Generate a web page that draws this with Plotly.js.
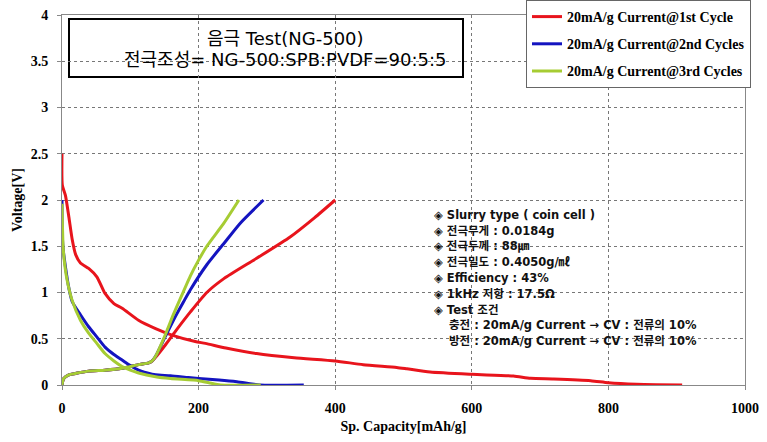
<!DOCTYPE html>
<html><head><meta charset="utf-8">
<script src="https://cdn.plot.ly/plotly-3.0.1.min.js"></script>
<style>html,body{margin:0;padding:0;background:#fff}</style>
</head><body><div id="chart" style="width:767px;height:442px"></div>
<script>
// ---- data ----
const seriesNames = ["20mA/g Current@1st Cycle", "20mA/g Current@2nd Cycles", "20mA/g Current@3rd Cycles"];
const seriesColors = ["#e8141c", "#1414c0", "#a6cc33"];

// 1st cycle
const c1DisCap = [0, 0.5, 5, 10, 15, 20, 27, 39, 51, 63, 76, 88, 112, 137, 161, 195, 210, 240, 285, 340, 400, 441, 490, 505, 539, 600, 661, 686, 720, 774, 800, 841, 870, 908];
const c1DisV   = [2.5, 2.16, 2.05, 1.82, 1.57, 1.41, 1.32, 1.26, 1.17, 0.99, 0.88, 0.83, 0.70, 0.61, 0.54, 0.47, 0.45, 0.40, 0.34, 0.295, 0.26, 0.22, 0.19, 0.175, 0.14, 0.115, 0.097, 0.072, 0.065, 0.047, 0.025, 0.008, 0.003, 0.0];
const c1ChgCap = [0, 1, 2.4, 10, 20, 39, 63, 88, 112, 127, 132, 137, 151, 166, 188, 212, 237, 285, 334, 370, 400];
const c1ChgV   = [0, 0.04, 0.07, 0.11, 0.125, 0.15, 0.16, 0.18, 0.22, 0.24, 0.26, 0.30, 0.43, 0.58, 0.79, 1.0, 1.15, 1.37, 1.60, 1.81, 2.0];

// 2nd cycle
const c2DisCap = [0, 0.5, 2, 5, 10, 15, 27, 39, 51, 63, 76, 88, 100, 112, 125, 137, 159, 185, 200, 230, 256, 275, 290, 354];
const c2DisV   = [2.0, 1.6, 1.45, 1.28, 1.05, 0.90, 0.76, 0.63, 0.52, 0.41, 0.33, 0.27, 0.21, 0.16, 0.13, 0.11, 0.10, 0.08, 0.07, 0.055, 0.036, 0.015, 0.0, 0.0];
const c2ChgCap = [0, 1, 2.4, 10, 20, 39, 63, 88, 112, 127, 132, 137, 151, 166, 178, 188, 212, 237, 261, 295];
const c2ChgV   = [0, 0.04, 0.07, 0.11, 0.125, 0.15, 0.16, 0.18, 0.22, 0.24, 0.26, 0.31, 0.52, 0.74, 0.90, 1.03, 1.30, 1.53, 1.75, 2.0];

// 3rd cycle
const c3DisCap = [0, 1.6, 4, 7.3, 14.6, 27, 39, 51, 63, 76, 88, 100, 112, 137, 159, 200, 215, 232, 291];
const c3DisV   = [1.96, 1.5, 1.3, 1.14, 0.92, 0.70, 0.56, 0.45, 0.34, 0.26, 0.20, 0.16, 0.13, 0.09, 0.07, 0.047, 0.025, 0.0, 0.0];
const c3ChgCap = [0, 1, 2.4, 10, 20, 39, 63, 88, 112, 127, 132, 137, 150, 163, 176, 188, 200, 212, 237, 259];
const c3ChgV   = [0, 0.04, 0.07, 0.11, 0.125, 0.15, 0.16, 0.18, 0.22, 0.24, 0.26, 0.31, 0.52, 0.76, 0.98, 1.18, 1.35, 1.50, 1.75, 2.0];

const xTickVals = [0, 200, 400, 600, 800, 1000];
const yTickVals = [0, 0.5, 1, 1.5, 2, 2.5, 3, 3.5, 4];

const titleLine1 = "음극 Test(NG-500)";
const titleLine2 = "전극조성= NG-500:SPB:PVDF=90:5:5";
const infoLines = [
  "◈ Slurry type ( coin cell )",
  "◈ 전극무게 : 0.0184g",
  "◈ 전극두께 : 88㎛",
  "◈ 전극밀도 : 0.4050g/㎖",
  "◈ Efficiency : 43%",
  "◈ 1kHz 저항 : 17.5Ω",
  "◈ Test 조건",
  "충전 : 20mA/g Current → CV : 전류의 10%",
  "방전 : 20mA/g Current → CV : 전류의 10%"
];
const infoIndent = [0, 0, 0, 0, 0, 0, 0, 1, 1];

// ---- build ----
const cycles = [
  [c1DisCap, c1DisV, c1ChgCap, c1ChgV],
  [c2DisCap, c2DisV, c2ChgCap, c2ChgV],
  [c3DisCap, c3DisV, c3ChgCap, c3ChgV]
];
const traces = cycles.map((c, i) => ({
  type: "scatter", mode: "lines",
  x: c[0].concat([null], c[2]),
  y: c[1].concat([null], c[3]),
  connectgaps: false,
  name: seriesNames[i],
  legendgroup: "g" + i,
  line: {color: seriesColors[i], width: 3, shape: "spline", smoothing: 0.6},
  hoverinfo: "skip"
}));

// plot area in pixels: x 62..745, y 15..385
const L = 62, R = 745, T = 15, B = 385;
const px = v => (v - L) / (R - L);
const py = v => (B - v) / (B - T);

const serif = "Liberation Serif, Times New Roman, serif";
const kr = "DejaVu Sans, Noto Sans CJK KR, sans-serif";

const infoAnnotations = infoLines.map((t, i) => ({
  xref: "paper", yref: "paper",
  x: px(infoIndent[i] ? 447 : 432), y: py(215 + i * 15.75),
  xanchor: "left", yanchor: "middle", text: t, showarrow: false,
  font: {family: kr, size: 11.5, color: "#111", weight: "bold"}
}));

const layout = {
  width: 767, height: 442,
  margin: {l: L, r: 767 - R, t: T, b: 442 - B, autoexpand: false},
  paper_bgcolor: "#fff", plot_bgcolor: "#fff",
  showlegend: true,
  legend: {
    x: px(526), y: py(0), xanchor: "left", yanchor: "top",
    bgcolor: "#fff", bordercolor: "#666", borderwidth: 1,
    font: {family: serif, size: 14, color: "#000", weight: "bold"},
    tracegroupgap: 6, traceorder: "grouped"
  },
  xaxis: {
    range: [0, 1000], tickvals: xTickVals, ticks: "outside", ticklen: 4, tickcolor: "#888",
    showgrid: true, gridcolor: "#777", griddash: "dot", gridwidth: 1,
    showline: true, linecolor: "#888", linewidth: 1, mirror: true, zeroline: false,
    tickfont: {family: serif, size: 14, color: "#000", weight: "bold"},
    ticklabelstandoff: 6,
    title: {text: "Sp. Capacity[mAh/g]", font: {family: serif, size: 14, color: "#000", weight: "bold"}, standoff: 6},
    automargin: false, fixedrange: true
  },
  yaxis: {
    range: [0, 4], tickvals: yTickVals, ticks: "outside", ticklen: 4, tickcolor: "#888",
    showgrid: true, gridcolor: "#777", griddash: "dot", gridwidth: 1,
    showline: true, linecolor: "#888", linewidth: 1, mirror: true, zeroline: false,
    tickfont: {family: serif, size: 14, color: "#000", weight: "bold"},
    ticklabelstandoff: 6,
    title: {text: "Voltage[V]", font: {family: serif, size: 14, color: "#000", weight: "bold"}, standoff: 4},
    automargin: false, fixedrange: true
  },
  shapes: [
    {type: "rect", xref: "paper", yref: "paper", layer: "between",
     x0: px(69), x1: px(463), y0: py(77), y1: py(19),
     line: {color: "#000", width: 2}, fillcolor: "#fff"},
    {type: "rect", xref: "paper", yref: "paper", layer: "between",
     x0: px(425), x1: px(735), y0: py(358), y1: py(206),
     line: {width: 0}, fillcolor: "#fff"}
  ],
  annotations: [
    {xref: "paper", yref: "paper", x: px(205), y: py(38), xanchor: "left", yanchor: "middle",
     text: titleLine1, showarrow: false, font: {family: kr, size: 18, color: "#000"}},
    {xref: "paper", yref: "paper", x: px(122), y: py(60), xanchor: "left", yanchor: "middle",
     text: titleLine2, showarrow: false, font: {family: kr, size: 18, color: "#000"}}
  ].concat(infoAnnotations)
};

Plotly.newPlot("chart", traces, layout, {staticPlot: true, displayModeBar: false});
</script></body></html>
